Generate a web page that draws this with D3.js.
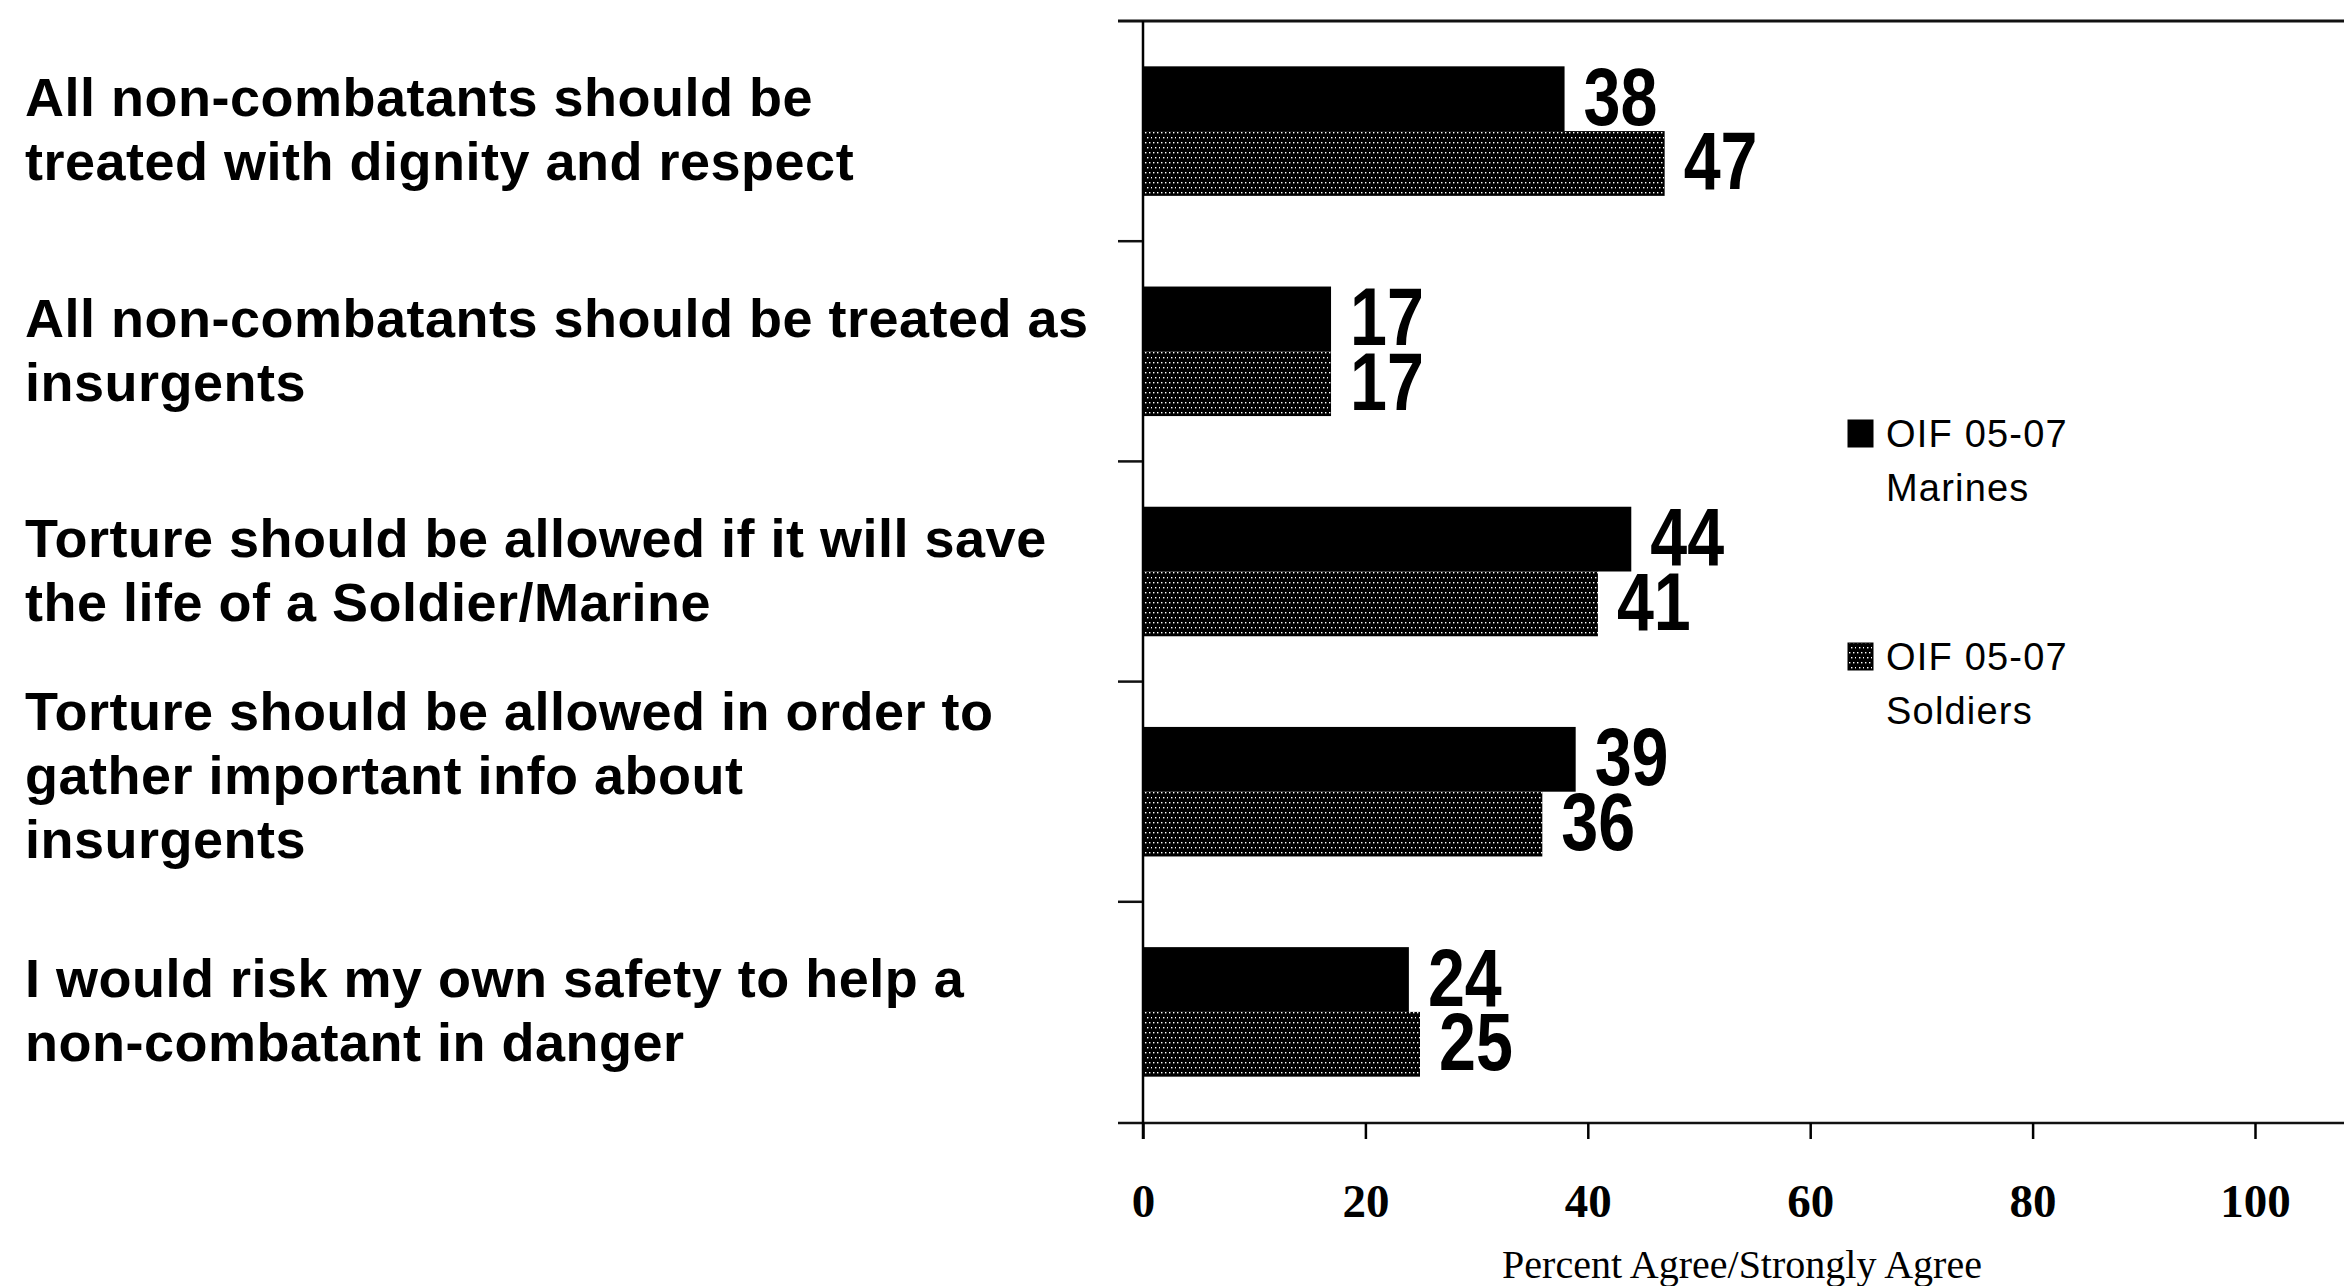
<!DOCTYPE html>
<html>
<head>
<meta charset="utf-8">
<script src="https://cdn.jsdelivr.net/npm/d3@7"></script>
<style>
  html, body { margin: 0; padding: 0; background: #fff; }
  svg { display: block; }
</style>
</head>
<body>
<svg id="chart" width="2344" height="1286"></svg>
<script>
// ---- data ----
const categories = [
  "All non-combatants should be\ntreated with dignity and respect",
  "All non-combatants should be treated as\ninsurgents",
  "Torture should be allowed if it will save\nthe life of a Soldier/Marine",
  "Torture should be allowed in order to\ngather important info about\ninsurgents",
  "I would risk my own safety to help a\nnon-combatant in danger"
];
const seriesNames = ["OIF 05-07\nMarines", "OIF 05-07\nSoldiers"];
const marines  = [38, 17, 44, 39, 24];
const soldiers = [47, 17, 41, 36, 25];
const xTicks = [0, 20, 40, 60, 80, 100];
const xTitle = "Percent Agree/Strongly Agree";

// ---- layout ----
const svg = d3.select("#chart");
const W = 2344;
const x = d3.scaleLinear().domain([0, 100]).range([1142, 2254]);
const y = d3.scaleBand().domain(d3.range(categories.length)).range([21, 1122]).padding(0);
const ySub = d3.scaleBand().domain([0, 1]).range([0, y.bandwidth()]).paddingInner(0).paddingOuter(0.7);

// pattern for soldiers
const defs = svg.append("defs");
const pat = defs.append("pattern").attr("id", "dots")
  .attr("patternUnits", "userSpaceOnUse").attr("width", 8).attr("height", 10);
pat.append("rect").attr("width", 8).attr("height", 10).attr("fill", "#000");
[[1, 2], [5, 2], [3, 7], [7, 7]].forEach(([px, py]) => {
  pat.append("rect").attr("x", px).attr("y", py).attr("width", 1.4).attr("height", 1.4).attr("fill", "#fff");
});

const fills = ["#000", "url(#dots)"];
const seriesData = [marines, soldiers];

// bars
seriesData.forEach((vals, s) => {
  svg.append("g").selectAll("rect").data(vals).join("rect")
    .attr("x", x(0))
    .attr("y", (d, i) => y(i) + ySub(s))
    .attr("width", d => x(d) - x(0))
    .attr("height", ySub.bandwidth())
    .attr("fill", fills[s]);
});

// value labels
const labelSize = 81;
seriesData.forEach((vals, s) => {
  svg.append("g").selectAll("text").data(vals).join("text")
    .attr("transform", (d, i) => {
      const cy = y(i) + ySub(s) + ySub.bandwidth() / 2 - 3;
      return `translate(${x(d) + 19},${cy + labelSize * 0.716 / 2}) scale(0.82,1)`;
    })
    .attr("font-family", "Liberation Sans, Arial, sans-serif")
    .attr("font-weight", "bold")
    .attr("font-size", labelSize)
    .attr("fill", "#000")
    .text(d => d);
});

// frame lines
svg.append("line").attr("x1", 1118).attr("x2", W).attr("y1", 21).attr("y2", 21)
  .attr("stroke", "#111").attr("stroke-width", 3);
svg.append("line").attr("x1", 1118).attr("x2", W).attr("y1", 1123).attr("y2", 1123)
  .attr("stroke", "#111").attr("stroke-width", 2.5);
svg.append("line").attr("x1", x(0) + 1).attr("x2", x(0) + 1).attr("y1", 21).attr("y2", 1139)
  .attr("stroke", "#000").attr("stroke-width", 2.5);

// category separator ticks
const bounds = d3.range(categories.length + 1).map(i => i < categories.length ? y(i) : y.range()[1]);
svg.append("g").selectAll("line").data(bounds.slice(1, -1)).join("line")
  .attr("x1", 1118).attr("x2", x(0)).attr("y1", d => d).attr("y2", d => d)
  .attr("stroke", "#111").attr("stroke-width", 2.5);

// x axis
const xAxis = d3.axisBottom(x).tickValues(xTicks).tickSize(16).tickFormat(d3.format("d"));
const gx = svg.append("g").attr("transform", "translate(1,1123)").call(xAxis);
gx.select(".domain").remove();
gx.selectAll(".tick line").attr("stroke", "#000").attr("stroke-width", 2.5);
gx.selectAll(".tick text")
  .attr("y", 94).attr("dy", 0)
  .attr("font-family", "Liberation Serif, Times New Roman, serif")
  .attr("font-weight", "bold")
  .attr("font-size", 47)
  .attr("fill", "#000");

// x axis title
svg.append("text")
  .attr("x", 1742).attr("y", 1278)
  .attr("text-anchor", "middle")
  .attr("font-family", "Liberation Serif, Times New Roman, serif")
  .attr("font-size", 40)
  .attr("fill", "#000")
  .text(xTitle);

// category labels
const catSize = 54, catLH = 64;
const cg = svg.append("g").selectAll("text").data(categories).join("text")
  .attr("font-family", "Liberation Sans, Arial, sans-serif")
  .attr("font-weight", "bold")
  .attr("font-size", catSize)
  .attr("letter-spacing", 0.5)
  .attr("fill", "#000");
cg.each(function(d, i) {
  const lines = d.split("\n");
  const capH = catSize * 0.716;
  const blockH = capH + (lines.length - 1) * catLH;
  const cy = y(i) + y.bandwidth() / 2 - 2 - (lines.length > 2 ? 15 : 0);
  const firstBase = cy - blockH / 2 + capH;
  d3.select(this).selectAll("tspan").data(lines).join("tspan")
    .attr("x", 25)
    .attr("y", (l, k) => firstBase + k * catLH)
    .text(l => l);
});

// legend
const legendTop = [447, 670];
const lg = svg.append("g");
seriesNames.forEach((name, s) => {
  const base = legendTop[s];
  lg.append("rect").attr("x", 1848).attr("y", base - 27).attr("width", 25).attr("height", 27)
    .attr("fill", fills[s]).attr("stroke", "#000").attr("stroke-width", 1);
  const t = lg.append("text")
    .attr("font-family", "Liberation Sans, Arial, sans-serif")
    .attr("font-size", 38)
    .attr("letter-spacing", 1.2)
    .attr("fill", "#000");
  name.split("\n").forEach((ln, k) => {
    t.append("tspan").attr("x", 1886).attr("y", base + k * 54).text(ln);
  });
});
</script>
</body>
</html>
